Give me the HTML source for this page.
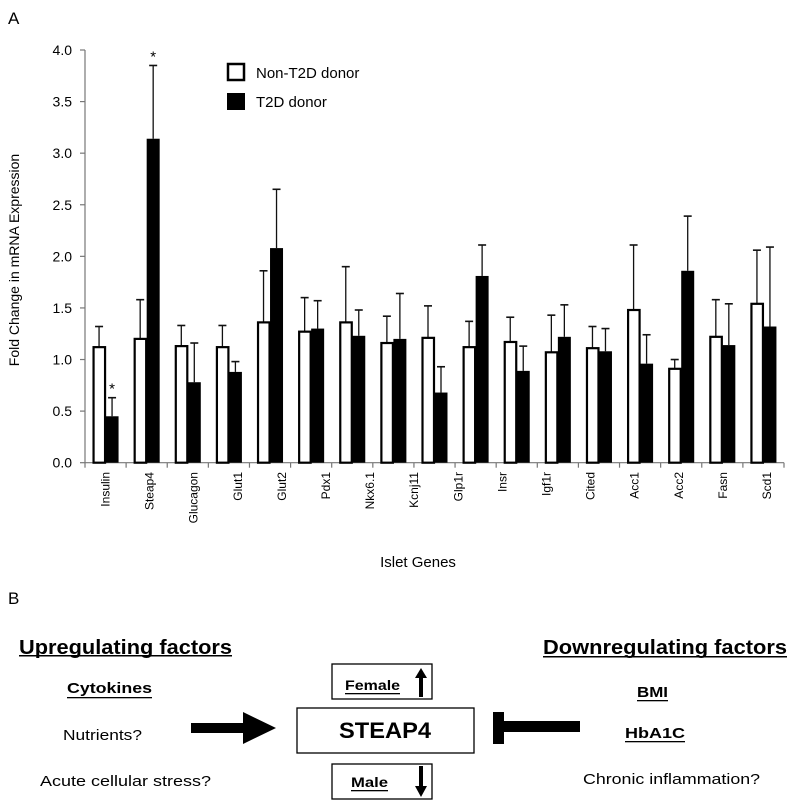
<!DOCTYPE html>
<html><head><meta charset="utf-8"><style>
html,body{margin:0;padding:0;background:#fff;}
svg{display:block;font-family:"Liberation Sans",Arial,sans-serif;}
</style></head><body>
<svg id="fig" width="800" height="809" viewBox="0 0 800 809">
<text x="8" y="24" font-size="17">A</text>
<g id="chart"></g>
<g>
  <rect x="228" y="64" width="16" height="16" fill="#fff" stroke="#000" stroke-width="2.5"/>
  <text x="256" y="78" font-size="15">Non-T2D donor</text>
  <rect x="227" y="93" width="18" height="17" fill="#000"/>
  <text x="256" y="107" font-size="15">T2D donor</text>
</g>
<text x="14" y="255" font-size="14" text-anchor="middle" transform="rotate(-90 19 255)">Fold Change in mRNA Expression</text>
<text x="418" y="567" font-size="15" text-anchor="middle">Islet Genes</text>

<text x="8" y="604" font-size="17">B</text>
<g>
  <text x="19" y="654" font-size="20" font-weight="bold" textLength="213" lengthAdjust="spacingAndGlyphs">Upregulating factors</text>
  <rect x="19" y="655" width="213" height="1.5" fill="#000"/>
  <text x="67" y="693" font-size="15" font-weight="bold" textLength="85" lengthAdjust="spacingAndGlyphs">Cytokines</text>
  <rect x="67" y="697" width="85" height="1.3" fill="#000"/>
  <text x="63" y="740" font-size="15" textLength="79" lengthAdjust="spacingAndGlyphs">Nutrients?</text>
  <text x="40" y="786" font-size="15" textLength="171" lengthAdjust="spacingAndGlyphs">Acute cellular stress?</text>
  <polygon points="191,723 243,723 243,712 276,728 243,744 243,733 191,733" fill="#000"/>
  <rect x="297" y="708" width="177" height="45" fill="#fff" stroke="#000" stroke-width="1.3"/>
  <text x="385" y="738" font-size="22" font-weight="bold" text-anchor="middle" textLength="92" lengthAdjust="spacingAndGlyphs">STEAP4</text>
  <rect x="332" y="664" width="100" height="35" fill="#fff" stroke="#000" stroke-width="1.3"/>
  <text x="345" y="690" font-size="14" font-weight="bold" textLength="55" lengthAdjust="spacingAndGlyphs">Female</text>
  <rect x="345" y="693" width="55" height="1.3" fill="#000"/>
  <polygon points="421,668 427,678 423,678 423,697 419,697 419,678 415,678" fill="#000"/>
  <rect x="332" y="764" width="100" height="35" fill="#fff" stroke="#000" stroke-width="1.3"/>
  <text x="351" y="787" font-size="14" font-weight="bold" textLength="37" lengthAdjust="spacingAndGlyphs">Male</text>
  <rect x="351" y="790" width="37" height="1.3" fill="#000"/>
  <polygon points="419,766 423,766 423,786 427,786 421,797 415,786 419,786" fill="#000"/>
  <rect x="493" y="712" width="11" height="32" fill="#000"/>
  <rect x="504" y="721" width="76" height="11" fill="#000"/>
  <text x="543" y="654" font-size="20" font-weight="bold" textLength="244" lengthAdjust="spacingAndGlyphs">Downregulating factors</text>
  <rect x="543" y="656" width="244" height="1.5" fill="#000"/>
  <text x="637" y="697" font-size="15" font-weight="bold" textLength="31" lengthAdjust="spacingAndGlyphs">BMI</text>
  <rect x="637" y="700" width="31" height="1.3" fill="#000"/>
  <text x="625" y="738" font-size="15" font-weight="bold" textLength="60" lengthAdjust="spacingAndGlyphs">HbA1C</text>
  <rect x="625" y="741" width="60" height="1.3" fill="#000"/>
  <text x="583" y="784" font-size="15" textLength="177" lengthAdjust="spacingAndGlyphs">Chronic inflammation?</text>
</g>
</svg>
<script>
const genes = ["Insulin","Steap4","Glucagon","Glut1","Glut2","Pdx1","Nkx6.1","Kcnj11","Glp1r","Insr","Igf1r","Cited","Acc1","Acc2","Fasn","Scd1"];
const nonT2D = [1.12,1.20,1.13,1.12,1.36,1.27,1.36,1.16,1.21,1.12,1.17,1.07,1.11,1.48,0.91,1.22,1.54];
const nonT2DErr = [0.20,0.38,0.20,0.21,0.50,0.33,0.54,0.26,0.31,0.25,0.24,0.36,0.21,0.63,0.09,0.36,0.52];
const t2d = [0.45,3.14,0.78,0.88,2.08,1.30,1.23,1.20,0.68,1.81,0.89,1.22,1.08,0.96,1.86,1.14,1.32];
const t2dErr = [0.18,0.71,0.38,0.10,0.57,0.27,0.25,0.44,0.25,0.30,0.24,0.31,0.22,0.28,0.53,0.40,0.77];
const yTicks = ["0.0","0.5","1.0","1.5","2.0","2.5","3.0","3.5","4.0"];
const starred = [0,1];

const NS="http://www.w3.org/2000/svg";
const g=document.getElementById('chart');
const X0=85, X1=784, Y0=462.7, YTOP=50, YMAX=4;
const nGroups=nonT2D.length, gw=(X1-X0)/nGroups, bw=13;
function y(v){return Y0-(v/YMAX)*(Y0-YTOP);}
function cx(i){return X0+(i+0.5)*gw;}
function mk(tag,attrs,parent){const e=document.createElementNS(NS,tag);for(const k in attrs)e.setAttribute(k,attrs[k]);(parent||g).appendChild(e);return e;}

let e=mk('line',{x1:X0,y1:YTOP,x2:X0,y2:Y0,stroke:'#777','stroke-width':1.2});


e=mk('line',{x1:X0,y1:Y0,x2:X1,y2:Y0,stroke:'#777','stroke-width':1.2});


yTicks.forEach(function(t){
  const v=parseFloat(t), yy=y(v);
  mk('line',{x1:X0-5,y1:yy,x2:X0,y2:yy,stroke:'#777','stroke-width':1.2});
  const tx=mk('text',{x:X0-13,y:yy+5,'font-size':14,'text-anchor':'end'});
  tx.textContent=t;
  
  
});
for(let i=0;i<=nGroups;i++){const xx=X0+i*gw;mk('line',{x1:xx,y1:Y0,x2:xx,y2:Y0+5,stroke:'#777','stroke-width':1.2});}
function errbar(x,v,err){
  const top=y(v+err);
  mk('line',{x1:x,y1:y(v),x2:x,y2:top,stroke:'#111','stroke-width':1.3});
  mk('line',{x1:x-4,y1:top,x2:x+4,y2:top,stroke:'#111','stroke-width':1.6});
}
for(let i=0;i<nGroups;i++){
  const c=cx(i);
  errbar(c-bw/2,nonT2D[i],nonT2DErr[i]);
  errbar(c+bw/2,t2d[i],t2dErr[i]);
  let r=mk('rect',{x:c-bw+1,y:y(nonT2D[i]),width:bw-1.5,height:Y0-y(nonT2D[i]),fill:'#fff',stroke:'#000','stroke-width':2.2});
  
  
  r=mk('rect',{x:c,y:y(t2d[i]),width:bw,height:Y0-y(t2d[i]),fill:'#000'});
  
  
}
starred.forEach(function(i){
  const s=mk('text',{x:cx(i)+bw/2,y:y(t2d[i]+t2dErr[i])-4,'font-size':15,'text-anchor':'middle'});
  s.textContent='*';
  
  
});
const lx0=105.5, lstep=(767-105.5)/(genes.length-1);
genes.forEach(function(name,i){
  const lx=lx0+i*lstep;
  const t=mk('text',{x:lx+4,y:472,'font-size':12,'text-anchor':'end',transform:'rotate(-90 '+(lx+4)+' 472)'});
  t.setAttribute('x',lx+4);
  t.textContent=name;
  
  
});
</script>
</body></html>
